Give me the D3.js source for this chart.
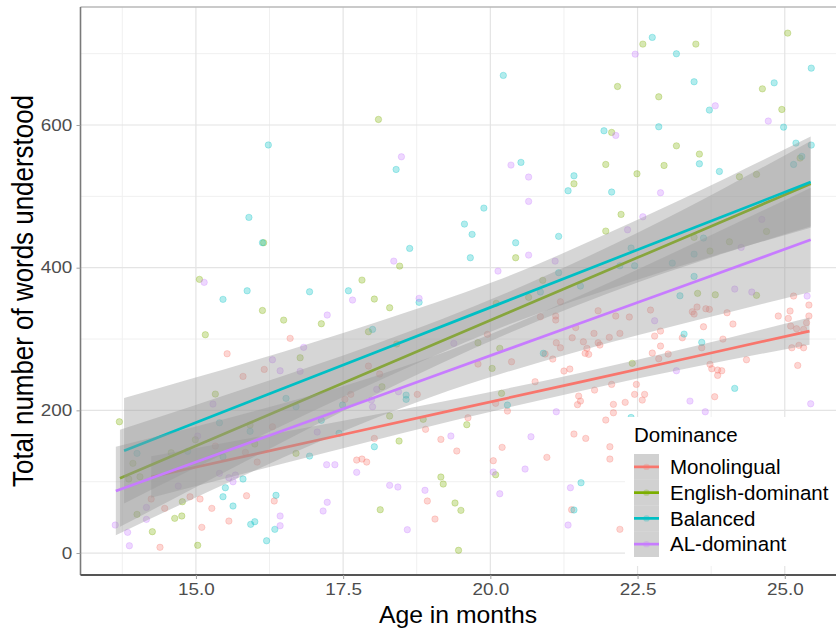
<!DOCTYPE html>
<html>
<head>
<meta charset="utf-8">
<script src="https://cdn.jsdelivr.net/npm/d3@7"></script>
<style>
  body { margin: 0; background: #fff; }
  svg { display: block; }
  text { font-family: "Liberation Sans", Arial, sans-serif; }
</style>
</head>
<body>
<script>
// Groups and colours (ggplot default hues)
const groups = ['Monolingual', 'English-dominant', 'Balanced', 'AL-dominant'];
const colors = ['#F8766D', '#7CAE00', '#00BFC4', '#C77CFF'];

// Tick values
const xTicks = [15, 17.5, 20, 22.5, 25];
const xMinor = [13.75, 16.25, 18.75, 21.25, 23.75];
const yTicks = [0, 200, 400, 600];
const yMinor = [100, 300, 500, 700];

// Points: [age in months, words understood]
const monolingual = [
  [25.41,347.6],[25.09,339.2],[24.89,332.2],[25.06,328.9],[25.41,332.2],[25.37,322.8],[25.1,318.1],[25.2,314.4],[25.32,313.5],[25.12,287.7],
  [25.24,291.1],[25.32,287.7],[25.22,263],[24.35,270.9],[24.12,321],[24.02,336.8],[23.95,299.9],[23.62,317.2],[23.59,287.7],[23.51,344.8],
  [23.43,338.2],[23.46,335],[23.66,342.4],[23.72,341.6],[22.72,340.6],[22.36,330.8],[22.13,332.2],[22.2,307.9],[22.02,302.3],[22.79,304.1],
  [22.89,311.1],[23.26,301.7],[22.89,290.1],[22.75,280.3],[23.02,278.9],[22.86,272.3],[23.73,264.5],[23.76,258.3],[23.86,256.5],[23.93,255.5],
  [23.86,249],[23.81,219.1],[22.06,236.4],[22.48,236.4],[22.45,222.4],[22.62,222.4],[22.58,214.4],[22.29,211.2],[22.09,208.4],[22.09,196.6],
  [21.86,291.5],[25.15,360.2],[21.83,339.6],[21.58,296.1],[21.64,286.9],[21.76,307.9],[21.83,294.7],[21.61,279.9],[21.67,278.5],[21.45,316],
  [21.77,228.4],[21.96,186.4],[21.62,160.7],[22.03,149],[22.03,131.7],[22.2,33.2],[17.93,262.1],[18.12,250.9],[17.53,215.4],[17.63,222.4],
  [18.76,222.4],[18.9,173.4],[18.03,160.7],[19.16,159.3],[19.43,143],[19.62,189.6],[19.95,306.5],[19.79,264.9],[20.36,268.1],[20.09,209.8],
  [20.29,199],[20.76,240.1],[20.93,279],[21.06,271.9],[21.19,352.2],[20.85,331.2],[21.11,332.2],[21.11,326.6],[21.12,294.7],[21.19,287.7],
  [21.39,301.7],[21.25,255.1],[21.35,257.9],[21.5,220],[21.53,213],[21.48,208],[21.42,166.8],[20.96,134.1],[20.2,148.1],[20.05,129.4],
  [17.73,130.3],[17.82,131.7],[17.9,127.5],[18.93,72.9],[19.06,47.6],[21.38,60.7],[16.6,300.9],[16.16,257.4],[16.3,177],[15.53,279.3],
  [15.8,247.6],[15.33,150],[15.84,141.1],[16.04,127.5],[15.86,80.3],[16.33,72.9],[15.07,75.7],[14.9,78.9],[14.24,75.7],[14.47,62.6],
  [15.27,62.6],[15.56,44.8],[15.1,36],[14.39,8]
];
const englishDominant = [
  [16.15,435],[15.06,383.6],[18.1,607.8],[18.46,402.2],[20.43,413.9],[21.42,517.6],[20.89,382.2],[17.82,382.6],[18.03,356],[20.65,358.4],
  [22.59,713.4],[23.49,713.4],[25.05,728.8],[22.16,654],[22.86,639.5],[24.62,650.7],[24.95,621.8],[22.06,589.6],[23.16,570.8],[23.55,559.2],
  [25.26,553.6],[21.96,544.7],[22.95,543.3],[22.49,531.6],[24.23,527.4],[24.52,530.8],[22.22,474.7],[21.96,451.3],[24.69,450.8],[23.46,442.5],
  [24.06,436.3],[23.73,423.3],[23.52,364],[23.82,362],[24.52,361.2],[22.41,265.9],[18.29,343.8],[17.93,310.2],[18.41,293],[18.16,233.1],
  [18.29,192],[18.86,187.4],[18.45,157],[19.6,179.9],[19.79,294.7],[20.16,286.9],[20.03,258.8],[20.19,223.8],[20.09,109.7],[19.16,106.5],
  [19.2,96.7],[19.4,70.1],[19.5,59.8],[18.13,60.7],[19.46,3.8],[20.1,350],[16.13,340],[16.49,326.5],[17.13,321.4],[16.77,273.7],
  [15.16,306],[15.33,222.8],[13.7,184],[15.92,179.4],[14.99,158.8],[16,152.8],[14.58,140.6],[13.93,125.7],[14.05,106.9],[13.86,103.7],
  [16.7,139.7],[14.77,71.9],[14,54.2],[14.64,48.6],[14.76,51.9],[14.26,29.9],[15.03,10.8]
];
const balanced = [
  [16.23,572],[15.9,470.5],[16.13,435],[15.87,367.6],[16.93,366.2],[15.46,355.6],[20.22,669.5],[18.4,537.7],[20.52,547.6],[21.42,528.8],
  [21.32,507.8],[19.89,483.5],[19.56,461.1],[19.69,446.7],[18.63,427],[19.66,413.9],[20.43,434.9],[21.16,443.9],[21.16,392.9],[21.53,374.2],
  [17.59,367.6],[20.85,365.8],[22.75,722.8],[23.16,699.8],[25.45,679.7],[23.46,660.6],[24.82,659.1],[23.72,620.9],[24.98,597],[21.93,591.9],
  [22.86,597.5],[23.55,545.6],[25.19,574.6],[25.45,571.8],[25.29,556],[25.15,544.7],[23.89,534.9],[22.06,506],[23.62,441.5],[22.39,427.5],
  [23.46,419],[22.2,402.7],[22.45,402.7],[23.09,406.4],[23.46,387.8],[23.22,360.6],[23.59,295.3],[23.29,306.9],[24.15,230.8],[22.39,190],
  [21.54,98.5],[18.79,351.4],[18,313.5],[17.49,207.4],[18.57,221.4],[18.57,215.4],[17.43,167.8],[18.03,149],[20.29,207.4],[20.9,280],
  [21.42,60.3],[16.53,216.8],[16.7,205],[17.13,186],[15.92,170.6],[15.4,182.6],[14.86,142.5],[15.46,135],[14,139.7],[16.93,135.9],
  [15.8,103.7],[15.5,91.5],[15.46,78.9],[15.63,65.9],[16.36,80.9],[15.93,40.2],[16,43.9],[16.34,33.2],[16.2,17.2]
];
const alDominant = [
  [15.14,379.4],[18.49,555.4],[20.35,543.8],[20.65,527],[20.65,492.9],[18.36,409.2],[20.65,417.6],[20.13,395.2],[21.1,409.2],[18.79,357],
  [17.66,354.6],[22.46,699.3],[23.82,626.9],[24.72,605.5],[22.13,585.4],[22.89,505],[22.59,471.3],[22.33,453.1],[24.61,467.7],[24.26,428.4],
  [24.15,370],[24.44,365.8],[25.38,360.2],[22.79,325.6],[23.16,255.5],[23.39,213],[23.65,198],[25.44,209.2],[18.07,229.4],[18,205],
  [17.98,214.4],[18.44,226.1],[19.33,164],[19.38,293.9],[21.12,198],[20.69,163],[20.05,113.5],[20.59,117.7],[20.16,83.1],[17.36,123.8],
  [17.73,113.1],[18.29,94.9],[18.43,92.5],[18.89,87.9],[18.59,32.7],[21.36,91.5],[21.32,39.2],[17.23,333.6],[16.83,288.3],[16.3,270.9],
  [16.43,255.5],[16.77,254.7],[17.06,169.6],[15.29,208.8],[15.03,164],[17.22,123.8],[15.4,111.7],[15.56,105.5],[15.63,99.9],[15.67,109.3],
  [14.7,93.9],[14.16,64],[14.16,47.2],[16.43,51.9],[16.43,38.3],[17.23,71.1],[17.16,58.9],[13.63,39.2],[13.84,29],[13.87,10.2]
];

// Fitted lines with confidence bands: age, fit, lower, upper
const monoFitAge = [14.24, 16, 17.5, 19.5, 21.5, 23.5, 25.42];
const monoFit    = [106.5, 138.7, 166.1, 202.7, 239.3, 275.9, 311];
const monoLo     = [77.5, 115.2, 146.9, 188.1, 226.5, 261.3, 292];
const monoHi     = [135.5, 162.2, 185.3, 217.3, 252.1, 290.5, 330];

const engFitAge = [13.71, 16, 18, 20.3, 22.5, 24, 25.44];
const engFit    = [104.7, 185.3, 255.7, 336.7, 414.1, 466.9, 517.6];
const engLo     = [36.7, 135.3, 219.7, 307.7, 379.1, 420.9, 457.6];
const engHi     = [172.7, 235.3, 291.7, 365.7, 449.1, 512.9, 577.6];

const balFitAge = [13.78, 16, 18, 20.1, 22.5, 24, 25.44];
const balFit    = [143.4, 215.1, 279.7, 347.5, 425.1, 473.5, 520];
const balLo     = [69.4, 160.1, 237.7, 313.5, 383.1, 421.5, 456];
const balHi     = [217.4, 270.1, 321.7, 381.5, 467.1, 525.5, 584];

const alFitAge = [13.64, 16, 18, 18.96, 21.5, 23.5, 25.44];
const alFit    = [87, 157.4, 217.1, 245.7, 321.5, 381.1, 439];
const alLo     = [25, 115.8, 187.4, 217.7, 283, 326.2, 366];
const alHi     = [149, 199, 246.8, 273.7, 360, 436, 512];

const pointSets = [monolingual, englishDominant, balanced, alDominant];
const fits = [
  [monoFitAge, monoFit, monoLo, monoHi],
  [engFitAge, engFit, engLo, engHi],
  [balFitAge, balFit, balLo, balHi],
  [alFitAge, alFit, alLo, alHi]
];

// Dimensions
const width = 836;
const height = 631;
const panelLeft = 80.5, panelRight = 836, panelTop = 7, panelBottom = 575;

const svg = d3.select('body')
  .append('svg')
  .attr('width', width)
  .attr('height', height);

svg.append('rect').attr('width', width).attr('height', height).attr('fill', '#fff');

// Scales
const x = d3.scaleLinear().domain([13.04, 25.87]).range([panelLeft, panelRight]);
const y = d3.scaleLinear().domain([-30.8, 765.4]).range([panelBottom, panelTop]);

// Grid lines
const grid = svg.append('g');
grid.selectAll('.xminor').data(xMinor).enter().append('line')
  .attr('x1', d => x(d)).attr('x2', d => x(d)).attr('y1', panelTop).attr('y2', panelBottom)
  .attr('stroke', '#f0f0f0').attr('stroke-width', 1);
grid.selectAll('.yminor').data(yMinor).enter().append('line')
  .attr('x1', panelLeft).attr('x2', panelRight).attr('y1', d => y(d)).attr('y2', d => y(d))
  .attr('stroke', '#f0f0f0').attr('stroke-width', 1);
grid.selectAll('.xmajor').data(xTicks).enter().append('line')
  .attr('x1', d => x(d)).attr('x2', d => x(d)).attr('y1', panelTop).attr('y2', panelBottom)
  .attr('stroke', '#e4e4e4').attr('stroke-width', 1.2);
grid.selectAll('.ymajor').data(yTicks).enter().append('line')
  .attr('x1', panelLeft).attr('x2', panelRight).attr('y1', d => y(d)).attr('y2', d => y(d))
  .attr('stroke', '#e4e4e4').attr('stroke-width', 1.2);

// Points
pointSets.forEach((pts, i) => {
  svg.append('g').selectAll('circle')
    .data(pts)
    .enter()
    .append('circle')
    .attr('cx', d => x(d[0]))
    .attr('cy', d => y(d[1]))
    .attr('r', 3.2)
    .attr('fill', colors[i])
    .attr('fill-opacity', 0.3)
    .attr('stroke', colors[i])
    .attr('stroke-opacity', 0.3)
    .attr('stroke-width', 0.9);
});

// Smooth layers: ribbon then line, group by group
const area = d3.area()
  .x(d => x(d[0])).y0(d => y(d[1])).y1(d => y(d[2]))
  .curve(d3.curveMonotoneX);
const line = d3.line()
  .x(d => x(d[0])).y(d => y(d[1]));

fits.forEach((f, i) => {
  const [ages, fit, lo, hi] = f;
  const band = ages.map((a, j) => [a, lo[j], hi[j]]);
  const fl = ages.map((a, j) => [a, fit[j]]);
  svg.append('path')
    .attr('d', area(band))
    .attr('fill', '#999999')
    .attr('fill-opacity', 0.4);
  svg.append('path')
    .attr('d', line(fl))
    .attr('fill', 'none')
    .attr('stroke', colors[i])
    .attr('stroke-width', 2.7);
});

// Panel edges
svg.append('line').attr('x1', panelLeft).attr('x2', panelRight).attr('y1', panelTop).attr('y2', panelTop)
  .attr('stroke', '#b8b8b8').attr('stroke-width', 1.5);
svg.append('line').attr('x1', panelLeft).attr('x2', panelLeft).attr('y1', panelTop).attr('y2', panelBottom)
  .attr('stroke', '#7a7a7a').attr('stroke-width', 1.6);
svg.append('line').attr('x1', panelLeft).attr('x2', panelRight).attr('y1', panelBottom).attr('y2', panelBottom)
  .attr('stroke', '#555').attr('stroke-width', 1.8);

// Axes
const xAxis = svg.append('g')
  .attr('transform', `translate(0,${panelBottom})`)
  .call(d3.axisBottom(x).tickValues(xTicks).tickFormat(d3.format('.1f')).tickSize(4).tickPadding(5));
const yAxis = svg.append('g')
  .attr('transform', `translate(${panelLeft},0)`)
  .call(d3.axisLeft(y).tickValues(yTicks).tickFormat(d3.format('d')).tickSize(4).tickPadding(3));

[xAxis, yAxis].forEach(ax => {
  ax.select('.domain').remove();
  ax.selectAll('.tick line').attr('stroke', '#a0a0a0');
  ax.selectAll('.tick text')
    .attr('fill', '#4d4d4d')
    .style('font-size', '16px')
    .style('font-family', '"Liberation Sans", Arial, sans-serif')
    .attr('transform', 'scale(1.18,1)');
});

// Axis titles
svg.append('text')
  .attr('x', 458)
  .attr('y', 623)
  .attr('text-anchor', 'middle')
  .attr('textLength', 158)
  .attr('lengthAdjust', 'spacingAndGlyphs')
  .style('font-size', '24px')
  .attr('fill', '#000')
  .text('Age in months');

svg.append('text')
  .attr('transform', 'translate(33,291) rotate(-90)')
  .attr('text-anchor', 'middle')
  .attr('textLength', 392)
  .attr('lengthAdjust', 'spacingAndGlyphs')
  .style('font-size', '30px')
  .attr('fill', '#000')
  .text('Total number of words understood');

// Legend
const legend = svg.append('g');
legend.append('rect')
  .attr('x', 625).attr('y', 417).attr('width', 211).attr('height', 149)
  .attr('fill', '#fff');
legend.append('text')
  .attr('x', 634).attr('y', 442)
  .style('font-size', '20.5px')
  .attr('fill', '#000')
  .text('Dominance');

const keyH = 25.75;
const key = legend.selectAll('.key')
  .data(groups)
  .enter()
  .append('g')
  .attr('transform', (d, i) => `translate(634, ${454 + i * keyH})`);

key.append('rect')
  .attr('width', 25).attr('height', keyH)
  .attr('fill', '#999999').attr('fill-opacity', 0.45);
key.append('circle')
  .attr('cx', 12.5).attr('cy', keyH / 2).attr('r', 3.2)
  .attr('fill', (d, i) => colors[i]).attr('fill-opacity', 0.3);
key.append('line')
  .attr('x1', 0).attr('x2', 25).attr('y1', keyH / 2).attr('y2', keyH / 2)
  .attr('stroke', (d, i) => colors[i]).attr('stroke-width', 2.7);
key.append('text')
  .attr('x', 36)
  .attr('y', keyH / 2 + 7.3)
  .style('font-size', '20.5px')
  .attr('fill', '#000')
  .text(d => d);
</script>
</body>
</html>
